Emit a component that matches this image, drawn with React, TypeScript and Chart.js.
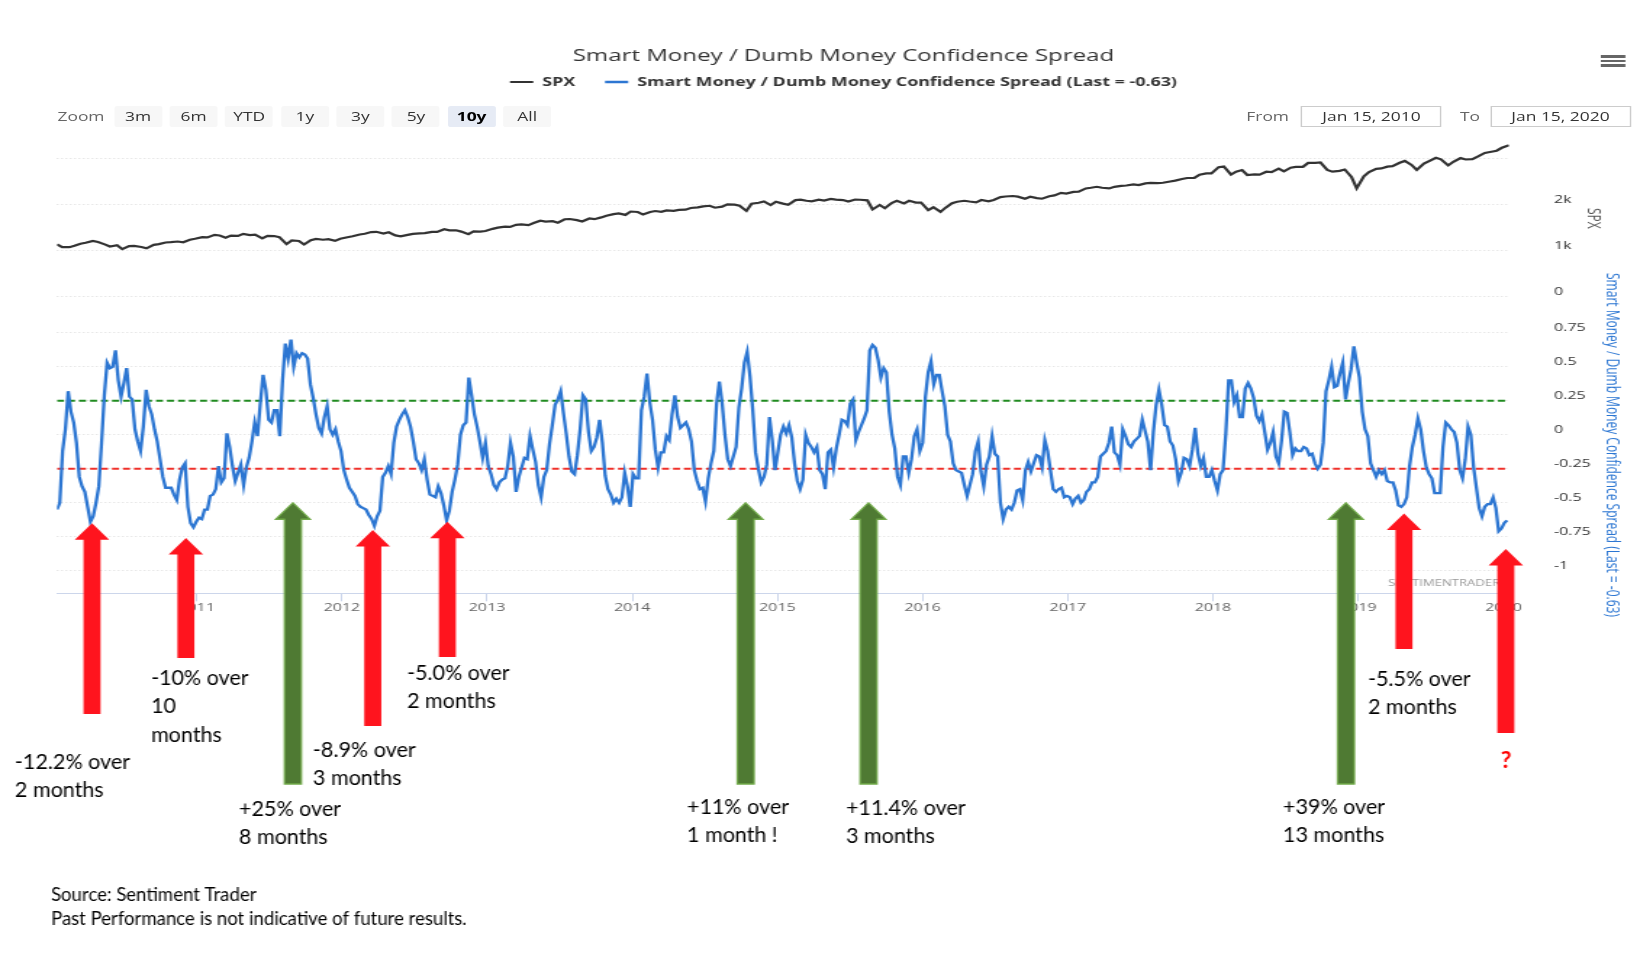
import React, { useEffect, useRef } from 'react';
import { Chart, registerables } from 'chart.js';

Chart.register(...registerables);

// ---------------- text ----------------
const chartTitle = 'Smart Money / Dumb Money Confidence Spread';
const spxName = 'SPX';
const spreadName = 'Smart Money / Dumb Money Confidence Spread (Last = -0.63)';
const zoomButtons = ['3m', '6m', 'YTD', '1y', '3y', '5y', '10y', 'All'];
const selectedZoom = '10y';
const rangeFrom = 'Jan 15, 2010';
const rangeTo = 'Jan 15, 2020';
const watermark = 'SENTIMENTRADER';
const footerLines = ['Source: Sentiment Trader', 'Past Performance is not indicative of future results.'];

// ---------------- axes ----------------
const xStart = '2010-01-15';
const xEnd = '2020-01-15';
const yearTicks = [2011, 2012, 2013, 2014, 2015, 2016, 2017, 2018, 2019, 2020];
const spxTicks = [0, 1000, 2000, 3000];
const spxTickLabels = ['0', '1k', '2k', ''];
const spxMin = 0;
const spxMax = 3400;
const spreadTicks = [-1, -0.75, -0.5, -0.25, 0, 0.25, 0.5, 0.75];
const spreadMin = -1.166;
const spreadMax = 1.015;
const upperBand = 0.25;
const lowerBand = -0.25;

// ---------------- SPX (mid-month, month-end) ----------------
const spx2010 = [1136, 1074, 1075, 1104, 1150, 1169, 1211, 1187, 1136, 1089, 1116, 1031, 1096, 1102, 1079, 1049, 1125, 1141, 1176, 1183, 1197, 1181, 1236, 1258];
const spx2011 = [1293, 1286, 1343, 1327, 1281, 1326, 1320, 1364, 1338, 1345, 1265, 1321, 1316, 1292, 1140, 1219, 1209, 1131, 1225, 1253, 1236, 1247, 1212, 1258];
const spx2012 = [1289, 1312, 1350, 1366, 1402, 1408, 1370, 1398, 1330, 1310, 1342, 1362, 1375, 1379, 1405, 1407, 1465, 1441, 1440, 1412, 1356, 1416, 1414, 1426];
const spx2013 = [1472, 1498, 1521, 1515, 1560, 1569, 1553, 1598, 1650, 1631, 1639, 1606, 1680, 1686, 1661, 1633, 1698, 1682, 1721, 1757, 1791, 1806, 1775, 1848];
const spx2014 = [1838, 1783, 1838, 1859, 1841, 1872, 1862, 1884, 1888, 1924, 1937, 1960, 1973, 1931, 1955, 2003, 1998, 1972, 1862, 2018, 2039, 2068, 1989, 2059];
const spx2015 = [2019, 1995, 2096, 2105, 2081, 2068, 2106, 2086, 2122, 2107, 2097, 2063, 2108, 2104, 2092, 1893, 1990, 1920, 2033, 2079, 2023, 2080, 2043, 2044];
const spx2016 = [1880, 1940, 1840, 1932, 2027, 2060, 2081, 2065, 2047, 2097, 2071, 2099, 2161, 2174, 2185, 2171, 2126, 2168, 2140, 2126, 2180, 2199, 2253, 2239];
const spx2017 = [2275, 2279, 2349, 2364, 2385, 2363, 2349, 2384, 2403, 2412, 2437, 2423, 2459, 2470, 2464, 2472, 2500, 2519, 2553, 2575, 2579, 2648, 2676, 2674];
const spx2018 = [2810, 2824, 2650, 2714, 2748, 2641, 2656, 2648, 2712, 2705, 2780, 2718, 2798, 2816, 2818, 2902, 2905, 2914, 2751, 2712, 2730, 2760, 2600, 2351];
const spx2019 = [2611, 2704, 2775, 2784, 2822, 2834, 2905, 2946, 2859, 2752, 2887, 2942, 3014, 2980, 2848, 2926, 3007, 2977, 2986, 3038, 3120, 3141, 3168, 3231];
const spx2020 = [3289];

// ---------------- Spread (weekly, from 2010-01-15) ----------------
const spreadStart = '2010-01-15';
const spread2010 = [-0.55, -0.50, -0.12, 0.04, 0.32, 0.17, 0.09, -0.06, -0.31, -0.38, -0.42, -0.53, -0.64, -0.60, -0.50, -0.38, -0.06, 0.29, 0.53, 0.49, 0.50, 0.62, 0.40, 0.28, 0.38, 0.49, 0.28, 0.26, 0.04, -0.05, -0.12, 0.06, 0.33, 0.21, 0.15, 0.04, -0.05, -0.18, -0.31, -0.39, -0.39, -0.39, -0.44, -0.48, -0.33, -0.24, -0.21, -0.53, -0.65, -0.68, -0.64];
const spread2011 = [-0.61, -0.62, -0.55, -0.55, -0.45, -0.44, -0.40, -0.23, -0.35, -0.32, 0.01, -0.09, -0.23, -0.34, -0.28, -0.22, -0.37, -0.24, -0.17, -0.05, 0.09, -0.01, 0.23, 0.44, 0.33, 0.11, 0.09, 0.18, 0.18, -0.01, 0.40, 0.67, 0.56, 0.70, 0.50, 0.60, 0.57, 0.60, 0.59, 0.56, 0.37, 0.27, 0.15, 0.05, 0.01, 0.13, 0.21, 0.04, 0.00, 0.04, -0.05, -0.12];
const spread2012 = [-0.26, -0.33, -0.39, -0.42, -0.45, -0.51, -0.53, -0.54, -0.55, -0.59, -0.62, -0.67, -0.60, -0.56, -0.31, -0.28, -0.23, -0.29, -0.06, 0.06, 0.11, 0.15, 0.18, 0.13, 0.06, -0.05, -0.18, -0.21, -0.26, -0.18, -0.33, -0.44, -0.45, -0.46, -0.38, -0.43, -0.52, -0.63, -0.56, -0.42, -0.33, -0.22, 0.00, 0.07, 0.09, 0.42, 0.29, 0.15, 0.06, -0.05, -0.17, -0.06];
const spread2013 = [-0.23, -0.29, -0.37, -0.40, -0.35, -0.33, -0.32, -0.23, -0.06, -0.16, -0.42, -0.31, -0.24, -0.17, -0.18, -0.01, -0.11, -0.20, -0.37, -0.46, -0.31, -0.26, -0.07, 0.07, 0.22, 0.26, 0.32, 0.16, 0.01, -0.16, -0.27, -0.29, -0.15, 0.04, 0.29, 0.26, 0.02, -0.12, -0.09, -0.02, 0.11, -0.06, -0.30, -0.40, -0.44, -0.50, -0.47, -0.50, -0.46, -0.28, -0.38, -0.53];
const spread2014 = [-0.29, -0.32, -0.32, 0.18, 0.28, 0.45, 0.24, 0.11, -0.11, -0.24, -0.13, -0.13, -0.01, -0.04, 0.15, 0.29, 0.13, 0.05, 0.07, 0.09, 0.04, -0.05, -0.26, -0.34, -0.40, -0.39, -0.49, -0.32, -0.21, -0.12, 0.23, 0.39, 0.23, 0.00, -0.18, -0.23, -0.16, -0.09, 0.20, 0.34, 0.53, 0.61, 0.43, 0.18, -0.13, -0.25, -0.35, -0.31, -0.22, 0.13, -0.04, -0.26];
const spread2015 = [-0.13, 0.00, 0.06, 0.01, 0.07, -0.02, -0.21, -0.34, -0.40, -0.33, 0.00, -0.06, -0.09, -0.13, -0.09, -0.26, -0.29, -0.40, -0.13, -0.11, -0.24, -0.10, 0.00, 0.11, 0.10, 0.07, 0.23, 0.26, -0.04, 0.02, 0.07, 0.12, 0.18, 0.62, 0.66, 0.64, 0.55, 0.42, 0.49, 0.46, 0.17, 0.00, -0.10, -0.31, -0.37, -0.16, -0.16, -0.28, -0.18, -0.01, 0.04, -0.12];
const spread2016 = [-0.06, 0.28, 0.46, 0.54, 0.37, 0.44, 0.44, 0.32, 0.21, 0.00, -0.05, -0.21, -0.26, -0.27, -0.28, -0.37, -0.45, -0.37, -0.29, -0.12, -0.05, -0.27, -0.38, -0.22, -0.16, -0.01, -0.14, -0.16, -0.50, -0.62, -0.55, -0.53, -0.55, -0.50, -0.41, -0.40, -0.48, -0.26, -0.20, -0.27, -0.21, -0.15, -0.16, -0.24, -0.04, -0.12, -0.26, -0.40, -0.42, -0.40, -0.39, -0.46, -0.45];
const spread2017 = [-0.46, -0.51, -0.47, -0.45, -0.50, -0.48, -0.42, -0.40, -0.35, -0.35, -0.31, -0.16, -0.14, -0.12, -0.06, 0.06, -0.13, -0.15, -0.22, 0.04, -0.01, -0.07, -0.09, -0.05, -0.03, -0.01, 0.11, 0.03, -0.05, -0.26, 0.02, 0.22, 0.33, 0.22, 0.07, 0.06, -0.05, -0.08, -0.18, -0.34, -0.28, -0.17, -0.18, -0.23, -0.11, 0.05, -0.14, -0.23, -0.17, -0.31, -0.31, -0.26];
const spread2018 = [-0.34, -0.41, -0.29, -0.26, 0.01, 0.40, 0.40, 0.24, 0.29, 0.13, 0.13, 0.34, 0.38, 0.34, 0.27, 0.14, 0.10, 0.15, 0.02, -0.11, -0.06, 0.02, -0.16, -0.21, -0.05, 0.17, 0.16, 0.02, -0.15, -0.10, -0.12, -0.12, -0.09, -0.10, -0.15, -0.14, -0.21, -0.25, -0.22, -0.06, 0.32, 0.40, 0.50, 0.35, 0.36, 0.45, 0.53, 0.26, 0.38, 0.48, 0.65, 0.53];
const spread2019 = [0.42, 0.17, 0.04, -0.01, -0.21, -0.26, -0.31, -0.26, -0.29, -0.26, -0.34, -0.35, -0.35, -0.41, -0.52, -0.53, -0.51, -0.46, -0.23, -0.09, 0.00, 0.12, 0.04, -0.12, -0.24, -0.29, -0.32, -0.43, -0.43, -0.43, -0.09, 0.09, 0.07, 0.04, 0.02, -0.06, -0.26, -0.32, -0.18, 0.06, 0.00, -0.24, -0.39, -0.54, -0.60, -0.53, -0.51, -0.51, -0.46, -0.54, -0.71, -0.69];
const spread2020 = [-0.65, -0.63];

// ---------------- annotations (signals) ----------------
const signalDates = ['2010-04-13', '2010-12-05', '2011-08-31', '2012-03-19', '2012-09-23', '2014-10-13', '2015-08-18', '2018-12-01', '2019-04-26', '2020-01-07'];
const signalTips = [-0.65, -0.76, -0.5, -0.7, -0.64, -0.5, -0.5, -0.5, -0.58, -0.84];
const signalKinds = ['sell', 'sell', 'buy', 'sell', 'sell', 'buy', 'buy', 'buy', 'sell', 'sell'];
const noteTexts = [
  ['-12.2% over', '2 months'],
  ['-10% over', '10', 'months'],
  ['+25% over', '8 months'],
  ['-8.9% over', '3 months'],
  ['-5.0% over', '2 months'],
  ['+11% over', '1 month !'],
  ['+11.4% over', '3 months'],
  ['+39% over', '13 months'],
  ['-5.5% over', '2 months'],
];
const questionMark = '?';

// ---------------- layout (page px) ----------------
const K = 1.45; // horizontal stretch of the chart screenshot
const u = (px: number) => px / K;
const CANVAS_W = Math.round(u(1687));
const PAGE_H = 975;
const PLOT_LEFT = 57;
const PLOT_RIGHT = 1509;
const AXIS_RIGHT = 1630;
const PLOT_TOP = 140;
const PLOT_BOTTOM = 593.3;
const PANE_SPLIT = 296.7;
const ARROW_TAIL_Y = [714, 658, 784, 726, 657, 784, 784, 784, 649, 733];
const NOTE_POS = [[15, 762], [151, 678], [239, 809], [313, 750], [407, 673], [687, 807], [846, 808], [1283, 807], [1368, 679]];
const NOTE_LINE_H = 28.5;
const QMARK_POS = [1506, 761];
const FOOTER_POS = [[51, 895], [51, 919]];

const BLUE = '#2c76d2';
const RED = '#ff141e';
const GREEN = '#4f7a33';
const GREEN_EDGE = '#72ab4a';

// ---------------- helpers ----------------
const DAY = 86400000;
function parseDate(s: string) {
  const [y, m, d] = s.split('-').map(Number);
  return Date.UTC(y, m - 1, d);
}
function fracYear(ms: number) {
  const y = new Date(ms).getUTCFullYear();
  const a = Date.UTC(y, 0, 1);
  const b = Date.UTC(y + 1, 0, 1);
  return y + (ms - a) / (b - a);
}
const X_MIN = fracYear(parseDate(xStart));
const X_MAX = fracYear(parseDate(xEnd));

const spreadSeries = [...spread2010, ...spread2011, ...spread2012, ...spread2013, ...spread2014, ...spread2015, ...spread2016, ...spread2017, ...spread2018, ...spread2019, ...spread2020];
const spreadPoints = spreadSeries.map((v, i) => ({ x: fracYear(parseDate(spreadStart) + i * 7 * DAY), y: v }));

const spxByYear: [number, number[]][] = [[2010, spx2010], [2011, spx2011], [2012, spx2012], [2013, spx2013], [2014, spx2014], [2015, spx2015], [2016, spx2016], [2017, spx2017], [2018, spx2018], [2019, spx2019], [2020, spx2020]];
const spxPoints = spxByYear.flatMap(([year, vals]) =>
  vals.map((v, j) => ({ x: fracYear(Date.UTC(year, Math.floor(j / 2), j % 2 === 0 ? 15 : 28)), y: v }))
);

const overlayPlugin = {
  id: 'overlay',
  afterDraw(chart: any) {
    const { ctx } = chart;
    const xs = chart.scales.x;
    const ys = chart.scales.ySpread;
    ctx.save();
    ctx.font = "9px 'Open Sans', sans-serif";
    ctx.fillStyle = '#9a9a9a';
    ctx.textAlign = 'right';
    ctx.textBaseline = 'middle';
    ctx.fillText(watermark, u(1500), 583);
    ctx.restore();

    ctx.save();
    ctx.scale(1 / K, 1);
    signalDates.forEach((d, i) => {
      const x = K * xs.getPixelForValue(fracYear(parseDate(d)));
      const tip = ys.getPixelForValue(signalTips[i]);
      const tail = ARROW_TAIL_Y[i];
      const headH = 16.5;
      const headW = 17.2;
      const shaftW = 8.5;
      ctx.beginPath();
      ctx.moveTo(x, tip);
      ctx.lineTo(x + headW, tip + headH);
      ctx.lineTo(x + shaftW, tip + headH);
      ctx.lineTo(x + shaftW, tail);
      ctx.lineTo(x - shaftW, tail);
      ctx.lineTo(x - shaftW, tip + headH);
      ctx.lineTo(x - headW, tip + headH);
      ctx.closePath();
      if (signalKinds[i] === 'buy') {
        ctx.fillStyle = GREEN;
        ctx.fill();
        ctx.strokeStyle = GREEN_EDGE;
        ctx.lineWidth = 1.5;
        ctx.stroke();
      } else {
        ctx.fillStyle = RED;
        ctx.fill();
      }
    });

    ctx.fillStyle = '#000';
    ctx.textAlign = 'left';
    ctx.textBaseline = 'middle';
    ctx.font = "21.5px Lato, 'Open Sans', sans-serif";
    noteTexts.forEach((lines, i) => {
      const [nx, ny] = NOTE_POS[i];
      lines.forEach((line, j) => ctx.fillText(line, nx, ny + j * NOTE_LINE_H));
    });
    ctx.fillStyle = '#ff0000';
    ctx.textAlign = 'center';
    ctx.font = "bold 23px Lato, sans-serif";
    ctx.fillText(questionMark, QMARK_POS[0], QMARK_POS[1]);

    ctx.fillStyle = '#000';
    ctx.textAlign = 'left';
    ctx.font = "18.6px Lato, sans-serif";
    footerLines.forEach((t, i) => ctx.fillText(t, FOOTER_POS[i][0], FOOTER_POS[i][1]));
    ctx.restore();
  },
};

export default function App() {
  const ref = useRef<HTMLCanvasElement>(null);

  useEffect(() => {
    if (!ref.current) return;
    Chart.defaults.font.family = "'Open Sans', sans-serif";
    const legendFont = 12.3;
    const legendGap = u(30);
    const titleLine = 16.6 * 1.2;
    const titleTop = 56 - titleLine / 2;
    const legendTop = 82 - legendFont / 2 - legendGap;
    const titleBottomPad = legendTop - titleTop - titleLine;
    const legendBottom = legendTop + legendFont + legendGap + 10;

    const chart = new Chart(ref.current, {
      type: 'line',
      data: {
        datasets: [
          { label: spxName, data: spxPoints, yAxisID: 'ySpx', borderColor: '#333333', backgroundColor: '#333333', borderWidth: 2.2, pointRadius: 0, tension: 0, order: 3 },
          { label: spreadName, data: spreadPoints, yAxisID: 'ySpread', borderColor: BLUE, backgroundColor: BLUE, borderWidth: 2.3, pointRadius: 0, tension: 0, order: 0 },
          { label: 'upper', data: [{ x: X_MIN, y: upperBand }, { x: X_MAX, y: upperBand }], yAxisID: 'ySpread', borderColor: '#1f8a1f', borderWidth: 1.8, borderDash: [u(7), u(4)], pointRadius: 0, order: 1 },
          { label: 'lower', data: [{ x: X_MIN, y: lowerBand }, { x: X_MAX, y: lowerBand }], yAxisID: 'ySpread', borderColor: '#f0302a', borderWidth: 1.8, borderDash: [u(7), u(4)], pointRadius: 0, order: 1 },
        ],
      },
      options: {
        responsive: false,
        animation: false,
        events: [],
        layout: {
          padding: { left: u(PLOT_LEFT), right: CANVAS_W - u(AXIS_RIGHT), top: 0, bottom: PAGE_H - PLOT_BOTTOM - 30 },
        },
        plugins: {
          title: {
            display: true,
            text: chartTitle,
            color: '#333333',
            font: { size: 16.6, weight: 'normal' },
            padding: { top: titleTop, bottom: titleBottomPad },
          },
          subtitle: {
            display: true,
            text: ' ',
            weight: 500,
            font: { size: 10 },
            padding: { top: PLOT_TOP - legendBottom - 12, bottom: 0 },
          } as any,
          legend: {
            display: true,
            labels: {
              usePointStyle: true,
              pointStyle: 'line',
              pointStyleWidth: 16,
              padding: legendGap,
              color: '#333333',
              font: { size: legendFont, weight: 'bold' },
              filter: (item: any) => item.text === spxName || item.text === spreadName,
              sort: (a: any, b: any) => a.datasetIndex - b.datasetIndex,
            },
          },
          tooltip: { enabled: false },
        },
        scales: {
          x: {
            type: 'linear',
            min: X_MIN,
            max: X_MAX,
            position: 'bottom',
            afterBuildTicks: (s: any) => { s.ticks = yearTicks.map((v) => ({ value: v })); },
            afterFit: (s: any) => { s.height = 30; },
            ticks: { callback: (v: any) => String(v), color: '#666666', font: { size: 11 }, padding: 0, autoSkip: false, maxRotation: 0 },
            grid: { drawOnChartArea: false, drawTicks: true, tickLength: 8, color: '#ccd6eb', tickColor: '#ccd6eb' },
            border: { display: true, color: '#ccd6eb', width: 1 },
          },
          ySpx: {
            type: 'linear',
            position: 'right',
            stack: 'panes',
            stackWeight: PANE_SPLIT - PLOT_TOP,
            min: spxMin,
            max: spxMax,
            afterBuildTicks: (s: any) => { s.ticks = spxTicks.map((v) => ({ value: v })); },
            afterFit: (s: any) => { s.width = u(AXIS_RIGHT - PLOT_RIGHT); },
            ticks: { callback: (v: any) => spxTickLabels[spxTicks.indexOf(v)] ?? '', padding: u(45), labelOffset: -5, color: '#333333', font: { size: 11 } },
            grid: { drawTicks: false, color: '#dddddd', lineWidth: 1 },
            border: { display: false, dash: [1, 2] },
            title: { display: true, text: spxName, color: '#555555', font: { size: 12 }, padding: { top: u(AXIS_RIGHT - 1593) - 7.2, bottom: 0 } },
          },
          ySpread: {
            type: 'linear',
            position: 'right',
            stack: 'panes',
            stackWeight: PLOT_BOTTOM - PANE_SPLIT,
            min: spreadMin,
            max: spreadMax,
            afterBuildTicks: (s: any) => { s.ticks = spreadTicks.map((v) => ({ value: v })); },
            afterFit: (s: any) => { s.width = u(AXIS_RIGHT - PLOT_RIGHT); },
            ticks: { callback: (v: any) => String(v), padding: u(45), labelOffset: -5, color: '#333333', font: { size: 11 } },
            grid: { drawTicks: false, color: '#dddddd', lineWidth: 1 },
            border: { display: false, dash: [1, 2] },
            title: { display: true, text: spreadName, color: BLUE, font: { size: 12 }, padding: { top: u(AXIS_RIGHT - 1612) - 7.2, bottom: 0 } },
          },
        },
      } as any,
      plugins: [overlayPlugin],
    });
    return () => chart.destroy();
  }, []);

  const btnTop = 106;
  const btnH = 21;
  return (
    <div style={{ position: 'fixed', left: 0, top: 0, width: 1641, height: PAGE_H, overflow: 'hidden', background: '#ffffff' }}>
      <div
        style={{
          position: 'absolute', left: 0, top: 0, width: CANVAS_W, height: PAGE_H,
          transform: `scaleX(${K})`, transformOrigin: '0 0', fontFamily: "'Open Sans', sans-serif",
        }}
      >
        <canvas ref={ref} width={CANVAS_W} height={PAGE_H} style={{ display: 'block', width: CANVAS_W, height: PAGE_H }} />
        <div style={{ position: 'absolute', left: u(57.5), top: btnTop, height: btnH, lineHeight: `${btnH}px`, fontSize: 12, color: '#666666' }}>Zoom</div>
        {zoomButtons.map((b, i) => (
          <div
            key={b}
            style={{
              position: 'absolute', left: u(114 + i * 55.6), top: btnTop, width: u(48), height: btnH,
              lineHeight: `${btnH}px`, textAlign: 'center', fontSize: 12, borderRadius: 2,
              background: b === selectedZoom ? '#e6ebf5' : '#f7f7f7',
              color: b === selectedZoom ? '#000000' : '#333333',
              fontWeight: b === selectedZoom ? 700 : 400,
            }}
          >
            {b}
          </div>
        ))}
        <div style={{ position: 'absolute', left: u(1230), width: u(59), top: btnTop, height: btnH, lineHeight: `${btnH}px`, textAlign: 'right', fontSize: 12, color: '#666666' }}>From</div>
        <div style={{ position: 'absolute', left: u(1301), width: u(141), top: btnTop, height: btnH, lineHeight: `${btnH - 2}px`, textAlign: 'center', fontSize: 12, color: '#333333', border: '1px solid #cccccc', boxSizing: 'border-box' }}>{rangeFrom}</div>
        <div style={{ position: 'absolute', left: u(1450), width: u(30), top: btnTop, height: btnH, lineHeight: `${btnH}px`, textAlign: 'right', fontSize: 12, color: '#666666' }}>To</div>
        <div style={{ position: 'absolute', left: u(1490), width: u(141), top: btnTop, height: btnH, lineHeight: `${btnH - 2}px`, textAlign: 'center', fontSize: 12, color: '#333333', border: '1px solid #cccccc', boxSizing: 'border-box' }}>{rangeTo}</div>
        {[55.3, 59.7, 64].map((t) => (
          <div key={t} style={{ position: 'absolute', left: u(1601), width: u(24), top: t, height: 2.7, background: '#666666' }} />
        ))}
      </div>
    </div>
  );
}
